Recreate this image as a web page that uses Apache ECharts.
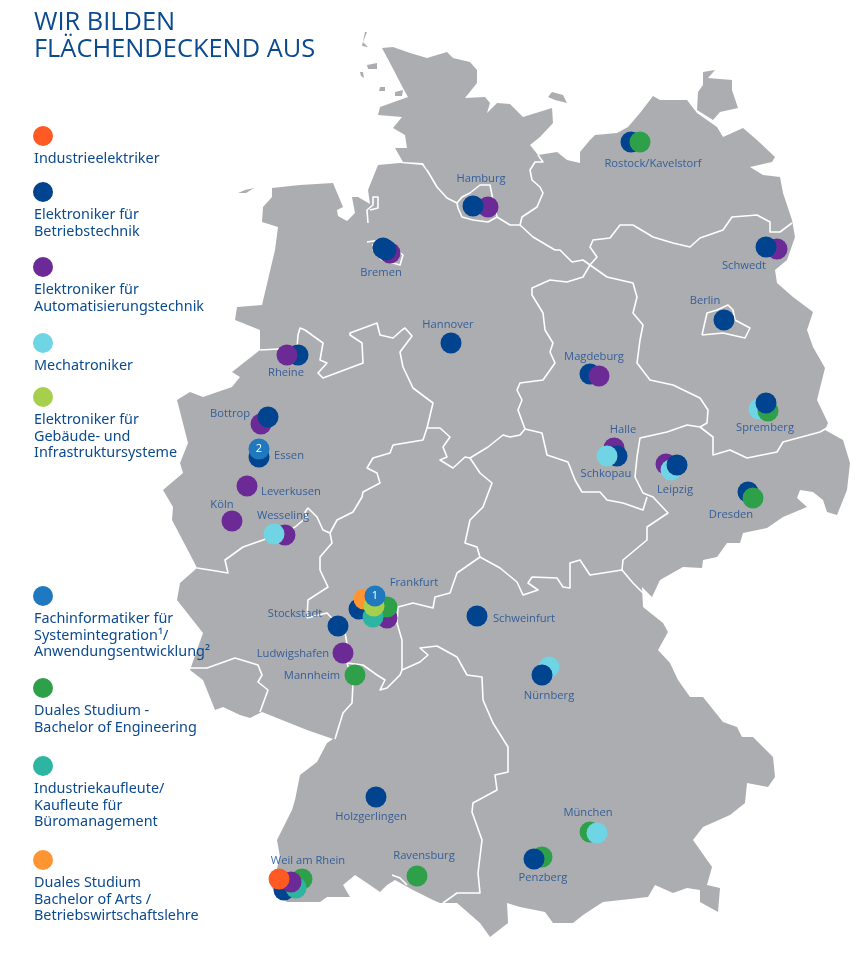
<!DOCTYPE html>
<html>
<head>
<meta charset="utf-8">
<title>Wir bilden flächendeckend aus</title>
<script src="https://cdn.jsdelivr.net/npm/echarts@6/dist/echarts.min.js"></script>
<style>
html,body{margin:0;padding:0;background:#fff;}
#main{width:862px;height:963px;}
</style>
</head>
<body>
<div id="main"></div>
<script>
//Ausbildungsberufe, Farben
var kurse=['Industrieelektriker','Elektroniker für\nBetriebstechnik','Elektroniker für\nAutomatisierungstechnik','Mechatroniker','Elektroniker für\nGebäude- und\nInfrastruktursysteme','Fachinformatiker für\nSystemintegration¹/\nAnwendungsentwicklung²','Duales Studium -\nBachelor of Engineering','Industriekaufleute/\nKaufleute für\nBüromanagement','Duales Studium\nBachelor of Arts /\nBetriebswirtschaftslehre'];
var kursFarben=['#FF5A24','#00438F','#6B2A96','#6FD5E4','#A6D04C','#2079BF','#2FA04A','#2DB5A2','#FF9433'];
var legendeY=[136,192,267,343,397,596,688,766,860];

//Standorte, ein Kreis je Beruf, Reihenfolge = Zeichenreihenfolge
var punkteKurs=[1,6, 2,1, 1, 2,1, 2,1,1, 1, 1,2, 2,1, 1,5, 2, 2, 2,3, 1,2,6,7,8,4,5, 1, 1, 2, 6, 1,2, 2,1,3, 2,3,1, 1,6, 3,6,1, 3,1, 6,3, 6,1, 1, 6, 1,6,7,2,0];
var punkteX=[631,640, 777,766, 724, 488,473, 390,383,386, 451, 298,287, 261,268, 259,259, 247, 232, 285,274, 359,387,387,373,364,374,375, 338, 477, 343, 355, 590,599, 614,617,607, 666,671,677, 748,753, 759,768,766, 549,542, 590,597, 542,534, 376, 417, 284,302,296,291,279];
var punkteY=[142,142, 249,247, 320, 207,206, 253,248,250, 343, 355,355, 424,417, 457,449, 486, 521, 535,534, 609,618,607,617,599,606,596, 626, 616, 653, 675, 374,376, 448,456,456, 464,470,465, 492,498, 409,411,403, 667,675, 832,833, 857,859, 797, 876, 890,879,888,882,879];
//Nummern auf den Kreisen
var punkteZahl={16:'2',27:'1'};

//Ortsnamen
var orte=['Hamburg','Rostock/Kavelstorf','Bremen','Schwedt','Berlin','Hannover','Rheine','Magdeburg','Bottrop','Essen','Leverkusen','Köln','Wesseling','Halle','Schkopau','Leipzig','Spremberg','Dresden','Frankfurt','Stockstadt','Schweinfurt','Ludwigshafen','Mannheim','Nürnberg','Holzgerlingen','München','Weil am Rhein','Ravensburg','Penzberg'];
var orteX=[481,653,381,744,705,448,286,594,230,289,291,222,283,623,606,675,765,731,414,295,524,293,312,549,371,588,308,424,543];
var orteY=[179,164,273,266,301,325,373,357,414,456,492,505,516,430,474,490,428,515,583,614,619,654,676,696,817,813,861,856,878];

//Karte: Umriss und Inseln
var umriss=[[382,48],[393,47],[410,53],[427,58],[447,52],[453,58],[470,62],[477,70],[477,83],[465,98],[485,97],[490,103],[487,113],[497,103],[510,104],[523,117],[552,108],[553,123],[540,137],[530,145],[538,155],[557,152],[567,160],[580,163],[580,152],[590,140],[595,135],[617,133],[628,127],[640,113],[653,96],[660,100],[687,100],[697,113],[717,127],[723,137],[743,128],[757,140],[775,157],[772,162],[750,167],[763,175],[780,177],[783,193],[792,220],[795,237],[787,260],[775,270],[777,283],[793,297],[813,312],[807,330],[813,347],[825,368],[817,400],[828,423],[825,430],[843,440],[850,463],[847,490],[837,515],[827,512],[823,500],[813,492],[800,490],[797,498],[807,507],[783,517],[767,528],[743,533],[740,543],[727,543],[717,557],[703,560],[702,568],[683,567],[660,580],[652,597],[642,587],[643,607],[663,623],[668,632],[658,650],[670,663],[678,680],[690,697],[703,697],[723,722],[737,727],[742,737],[753,737],[773,757],[775,777],[768,787],[747,783],[745,803],[730,815],[703,827],[693,840],[712,867],[707,885],[720,888],[718,912],[700,902],[700,890],[687,888],[673,893],[655,885],[648,897],[603,902],[583,915],[573,923],[553,923],[545,912],[520,907],[507,903],[508,923],[490,937],[480,923],[457,903],[440,903],[433,900],[413,890],[395,880],[387,885],[380,892],[370,885],[355,875],[343,885],[350,897],[327,897],[320,902],[302,902],[287,902],[272,888],[280,857],[277,840],[292,810],[295,800],[300,775],[317,762],[327,743],[333,739],[307,730],[277,718],[262,712],[250,718],[240,715],[223,707],[215,710],[203,680],[190,670],[203,633],[177,600],[180,583],[197,568],[193,560],[172,520],[173,507],[163,490],[183,473],[180,463],[188,443],[177,400],[190,392],[203,397],[232,387],[240,377],[232,372],[260,350],[260,330],[235,320],[237,307],[262,305],[275,250],[278,227],[262,222],[263,207],[272,197],[272,188],[300,185],[333,183],[343,207],[337,210],[338,216],[347,221],[355,213],[352,197],[358,197],[370,204],[368,190],[378,165],[400,163],[422,165],[432,178],[423,163],[403,162],[395,148],[407,148],[405,135],[393,128],[402,117],[378,115],[380,107],[408,97],[403,88],[390,63]];
var inseln=[
    [[548,97],[552,92],[563,95],[567,103],[555,100]],
    [[703,72],[715,70],[708,78],[732,80],[732,90],[738,108],[720,112],[713,120],[697,110],[698,92],[703,85]],
    [[362,46],[365,32],[367,32],[363,42],[368,47]],
    [[367,65],[377,63],[377,69],[368,69]],
    [[360,72],[363,72],[364,78],[361,76]],
    [[380,87],[385,87],[385,91],[379,91]],
    [[395,92],[403,90],[402,96],[395,96]],
    [[238,193],[245,190],[254,188],[246,193]]
];

//Karte: Grenzen der Bundesländer
var grenzen=[
    [[427,170],[437,187],[447,198],[457,203],[458,208],[462,217],[473,220],[488,222],[497,217],[510,225],[520,225]],
    [[457,203],[462,197],[470,193],[480,185],[490,185],[493,200],[497,217]],
    [[520,225],[522,217],[537,207],[543,193],[540,187],[532,180],[530,170],[535,162],[543,162],[538,155]],
    [[520,225],[533,237],[555,250],[560,250],[572,262],[583,260],[590,265]],
    [[590,265],[597,257],[590,247],[593,240],[610,238],[620,225],[633,225],[653,237],[673,243],[690,247],[700,238],[723,230],[732,217],[757,215],[770,222],[770,232],[780,232],[792,223]],
    [[590,265],[583,277],[567,282],[550,280],[532,288],[532,295],[543,313],[545,330],[553,343],[550,352],[555,363],[543,380],[520,383],[517,390],[522,400],[518,410],[525,429]],
    [[525,429],[542,433],[547,455],[568,462],[575,480],[582,492],[600,492],[607,500],[623,503],[643,510],[647,497]],
    [[590,265],[607,277],[633,283],[637,297],[633,313],[643,325],[640,340],[637,363],[650,380],[673,385],[700,398],[708,410],[707,423],[700,427]],
    [[700,427],[687,425],[667,432],[640,438],[637,457],[635,477],[643,493],[653,497],[668,513],[647,527],[647,540],[623,560],[622,570],[633,583],[643,593]],
    [[700,427],[713,437],[713,455],[730,450],[747,458],[777,452],[783,442],[820,432],[827,428]],
    [[622,570],[590,575],[580,560],[570,563],[570,588],[563,587],[557,578],[532,577],[528,583],[538,590],[523,595],[517,582],[500,568],[480,557]],
    [[525,429],[520,435],[510,437],[503,435],[488,447],[470,458],[480,473],[492,483],[483,507],[470,520],[465,543],[477,547],[480,557]],
    [[480,557],[457,573],[450,593],[435,597],[433,608],[413,603],[398,607],[397,623],[402,640],[402,670]],
    [[402,670],[420,662],[428,655],[420,648],[437,646],[457,657],[467,675],[482,677],[483,700],[493,723],[508,747],[508,772],[495,775],[497,790],[473,803],[472,812],[482,840],[478,873],[480,893],[457,893],[443,903]],
    [[363,665],[377,675],[385,680],[380,690],[387,688],[400,675],[402,670]],
    [[345,632],[348,650],[347,663],[353,683],[352,703],[343,713],[335,739]],
    [[347,663],[363,665]],
    [[307,618],[327,613],[345,632]],
    [[307,618],[308,600],[328,587],[320,570],[320,557],[332,543],[330,533]],
    [[330,533],[337,520],[353,512],[362,497],[363,492],[380,483],[377,473],[367,468],[373,458],[390,453],[393,445],[423,440],[427,428],[440,428],[450,437],[443,447],[447,457],[440,460],[453,468],[465,457],[470,458]],
    [[330,533],[323,530],[317,517],[308,508],[305,512],[307,517],[295,527],[263,540],[243,547],[225,560],[228,573],[210,570],[197,568]],
    [[190,668],[207,668],[235,658],[258,665],[262,675],[258,682],[268,690],[260,712]],
    [[260,350],[297,348],[298,335],[300,328],[305,330],[323,343],[320,360],[327,363],[318,373],[323,378],[363,363],[362,343],[350,335],[350,333],[377,323],[380,335],[393,338],[402,330],[405,328],[412,336],[400,352],[403,367],[413,388],[433,403],[427,428]],
    [[367,242],[380,240],[373,250],[382,260],[400,265],[403,255],[393,247],[372,245]],
    [[368,223],[367,210],[373,205],[373,197],[378,197],[378,208],[370,210]],
    [[702,335],[707,313],[717,310],[728,305],[733,310],[735,320],[750,328],[745,338],[723,333],[702,335]],
    [[392,875],[400,878],[407,885]]
];

var myChart=echarts.init(document.getElementById('main'));

function toPunkte(api,liste){
    return liste.map(function(p){return api.coord(p);});
}

var option={
    animation:false,
    backgroundColor:'#fff',
    title:{
        text:'WIR BILDEN\nFLÄCHENDECKEND AUS',
        left:29,
        top:4,
        textStyle:{fontFamily:'Open Sans',fontSize:25.4,fontWeight:'normal',color:'#0B4A8F',lineHeight:27}
    },
    grid:{left:0,right:0,top:0,bottom:0},
    xAxis:{type:'value',min:0,max:862,show:false},
    yAxis:{type:'value',min:0,max:963,inverse:true,show:false},
    series:[
        //Flächen
        {
            type:'custom',
            silent:true,
            clip:false,
            data:[umriss].concat(inseln).map(function(g,i){return [i];}),
            renderItem:function(params,api){
                var g=[umriss].concat(inseln)[params.dataIndex];
                return {type:'polygon',shape:{points:toPunkte(api,g)},style:{fill:'#ABADB0'}};
            },
            z:1
        },
        //Grenzen
        {
            type:'custom',
            silent:true,
            clip:false,
            data:grenzen.map(function(g,i){return [i];}),
            renderItem:function(params,api){
                return {type:'polyline',shape:{points:toPunkte(api,grenzen[params.dataIndex])},style:{fill:null,stroke:'#fff',lineWidth:1.6,lineJoin:'round'}};
            },
            z:2
        },
        //Kreise
        {
            type:'scatter',
            symbolSize:21,
            z:3,
            data:punkteX.map(function(x,i){
                return {
                    value:[x,punkteY[i]],
                    itemStyle:{color:kursFarben[punkteKurs[i]],opacity:1},
                    label:{show:!!punkteZahl[i],formatter:punkteZahl[i]||'',position:'inside',color:'#fff',fontSize:11,fontFamily:'Open Sans'}
                };
            })
        },
        //Ortsnamen
        {
            type:'scatter',
            symbolSize:0,
            silent:true,
            z:4,
            data:orte.map(function(n,i){return {name:n,value:[orteX[i],orteY[i]]};}),
            label:{show:true,position:'inside',formatter:'{b}',color:'#174A94',fontSize:11.2,fontFamily:'Open Sans'}
        },
        //Legende
        {
            type:'scatter',
            symbolSize:20,
            silent:true,
            z:4,
            data:kurse.map(function(n,i){
                return {name:n,value:[43,legendeY[i]],itemStyle:{color:kursFarben[i],opacity:1}};
            }),
            label:{show:true,position:[1,25],align:'left',verticalAlign:'top',formatter:'{b}',color:'#0B4A8F',fontSize:14.4,lineHeight:16.5,fontFamily:'Noto Sans'}
        }
    ]
};
myChart.setOption(option);
</script>
</body>
</html>
